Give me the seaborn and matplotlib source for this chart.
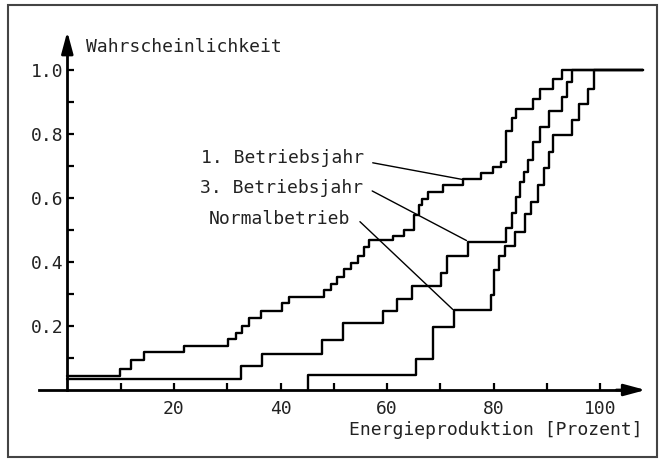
import numpy as np
import pandas as pd
import seaborn as sns
import matplotlib
matplotlib.use("Agg")
import matplotlib.pyplot as plt
from matplotlib.patches import Rectangle

# ---------------- data (step positions [%] and cumulative probability after each step)
x_jahr1 = [0, 9.9, 11.9, 14.4, 21.9, 30.1, 31.6, 32.7, 34.1, 36.3, 40.2, 41.5, 48.2, 49.4,
           50.6, 51.9, 53.3, 54.6, 55.7, 56.6, 61.1, 63.1, 65.1, 65.9, 66.6, 67.7, 70.5,
           74.3, 77.7, 79.9, 81.3, 82.3, 83.4, 84.2, 87.3, 88.6, 91.2, 92.8, 108.0]
y_jahr1 = [0.045, 0.067, 0.094, 0.120, 0.139, 0.158, 0.179, 0.200, 0.226, 0.246, 0.271, 0.290,
           0.312, 0.331, 0.352, 0.377, 0.398, 0.419, 0.446, 0.468, 0.482, 0.500, 0.547, 0.578,
           0.596, 0.620, 0.641, 0.660, 0.677, 0.698, 0.713, 0.809, 0.849, 0.877, 0.908, 0.941,
           0.972, 1.0, 1.0]

x_jahr3 = [0, 32.6, 36.5, 47.7, 51.7, 59.2, 61.9, 64.6, 70.2, 71.3, 75.2, 82.3, 83.4, 84.1,
           84.9, 85.7, 86.5, 87.3, 88.7, 90.4, 92.9, 93.8, 94.6, 108.0]
y_jahr3 = [0.035, 0.075, 0.112, 0.156, 0.208, 0.248, 0.283, 0.325, 0.367, 0.419, 0.464, 0.507,
           0.552, 0.604, 0.649, 0.682, 0.719, 0.774, 0.823, 0.872, 0.917, 0.963, 1.0, 1.0]

x_normal = [45.1, 45.1, 65.4, 68.7, 72.6, 79.5, 80.1, 81.0, 82.1, 84.0, 85.9, 87.0, 88.4, 89.4,
            90.4, 91.2, 94.6, 96.0, 97.6, 98.9, 108.0]
y_normal = [0.0, 0.048, 0.096, 0.196, 0.250, 0.297, 0.376, 0.420, 0.450, 0.495, 0.549, 0.588,
            0.640, 0.693, 0.745, 0.797, 0.844, 0.893, 0.940, 1.0, 1.0]

series_names = ["1. Betriebsjahr", "3. Betriebsjahr", "Normalbetrieb"]

x_ticks = [10, 20, 30, 40, 50, 60, 70, 80, 90, 100]
x_ticklabels = ["", "20", "", "40", "", "60", "", "80", "", "100"]
y_ticks = [0.1, 0.2, 0.3, 0.4, 0.5, 0.6, 0.7, 0.8, 0.9, 1.0]
y_ticklabels = ["", "0.2", "", "0.4", "", "0.6", "", "0.8", "", "1.0"]

x_label = "Energieproduktion [Prozent]"
y_label = "Wahrscheinlichkeit"

# label anchor (data coords) and leader line ends
label_pos = {"1. Betriebsjahr": (25.1, 0.708), "3. Betriebsjahr": (24.9, 0.615),
             "Normalbetrieb": (26.5, 0.519)}
leader = {"1. Betriebsjahr": ((57.3, 0.710), (74.1, 0.658)),
          "3. Betriebsjahr": ((57.2, 0.622), (74.9, 0.467)),
          "Normalbetrieb": ((54.9, 0.526), (72.3, 0.252))}

# ---------------- build table
frames = []
for name, xs, ys in zip(series_names, [x_jahr1, x_jahr3, x_normal], [y_jahr1, y_jahr3, y_normal]):
    frames.append(pd.DataFrame({"x": xs, "y": ys, "serie": name, "order": np.arange(len(xs))}))
df = pd.concat(frames, ignore_index=True)

sns.set_style("ticks")
plt.rcParams["font.family"] = ["DejaVu Sans Mono", "DejaVu Sans"]

fig = plt.figure(figsize=(6.63, 4.59), dpi=100)
ax = fig.add_axes([0.0593, 0.1294, 0.9145, 0.8018])

sns.lineplot(data=df, x="x", y="y", hue="serie", units="serie", estimator=None, sort=False,
             palette=["black"] * 3, drawstyle="steps-post", linewidth=1.7, legend=False, ax=ax)

ax.set_xlim(-5.25, 108.5)
ax.set_ylim(-0.03, 1.12)

for s in ["top", "right"]:
    ax.spines[s].set_visible(False)
ax.spines["left"].set_position(("data", 0))
ax.spines["bottom"].set_position(("data", 0))
ax.spines["left"].set_bounds(0, 1.09)
ax.spines["bottom"].set_bounds(-5.25, 105)
for s in ["left", "bottom"]:
    ax.spines[s].set_linewidth(2.0)
    ax.spines[s].set_color("black")

# arrow heads
ax.annotate("", xy=(108.5, 0), xytext=(103, 0),
            arrowprops=dict(arrowstyle="-|>,head_length=1.3,head_width=0.35", lw=2, color="black",
                            shrinkA=0, shrinkB=0), annotation_clip=False)
ax.annotate("", xy=(0, 1.12), xytext=(0, 1.07),
            arrowprops=dict(arrowstyle="-|>,head_length=1.3,head_width=0.35", lw=2, color="black",
                            shrinkA=0, shrinkB=0), annotation_clip=False)

ax.set_xticks(x_ticks)
ax.set_xticklabels(x_ticklabels)
ax.set_yticks(y_ticks)
ax.set_yticklabels(y_ticklabels)
ax.tick_params(axis="both", direction="in", length=5, width=1.6, color="black",
               labelsize=13, labelcolor="#222222")
ax.tick_params(axis="x", pad=7)
ax.tick_params(axis="y", pad=3)
ax.set_xlabel("")
ax.set_ylabel("")

ax.text(3.6, 1.057, y_label, fontsize=13, ha="left", va="baseline", color="#222222")
ax.text(107.9, -0.141, x_label, fontsize=13, ha="right", va="baseline", color="#222222",
        clip_on=False)

for name in series_names:
    lx, ly = label_pos[name]
    ax.text(lx, ly, name, fontsize=13, ha="left", va="baseline", color="#222222")
    (x1, y1), (x2, y2) = leader[name]
    ax.plot([x1, x2], [y1, y2], color="black", lw=1.0)

# figure frame
fig.patches.append(Rectangle((8 / 663, 2 / 459), 649 / 663, 452 / 459, transform=fig.transFigure,
                             fill=False, edgecolor="#444444", lw=1.5))

fig.savefig("out.png", dpi=100)
